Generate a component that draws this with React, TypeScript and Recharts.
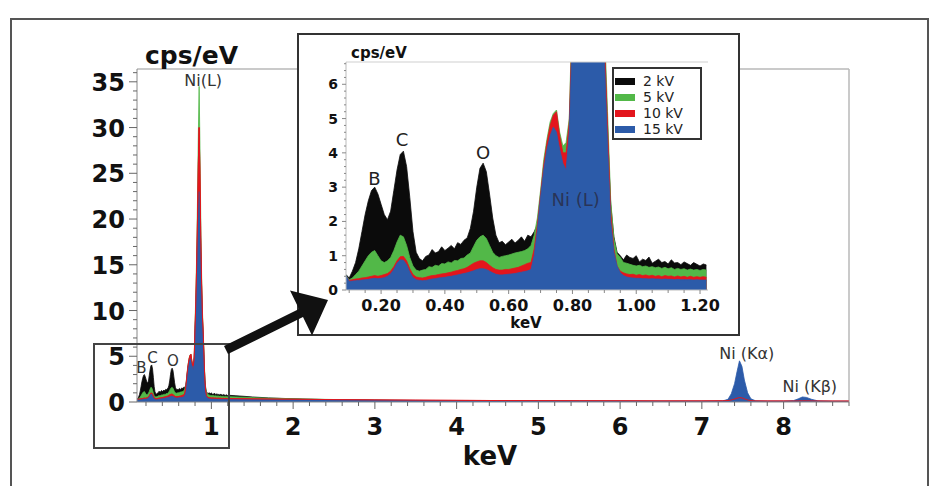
import React from "react";
import { ComposedChart, Area, Line, XAxis, YAxis, ReferenceLine, ReferenceDot, Legend } from "recharts";

// low energy part, 0.09 - 1.22 keV (shown in inset and in main chart)
const lowKev = [
  0.09,
  0.1, 0.11, 0.12, 0.13, 0.14, 0.15, 0.16, 0.17, 0.18, 0.19,
  0.2, 0.21, 0.22, 0.23, 0.24, 0.25, 0.26, 0.27, 0.28, 0.29,
  0.3, 0.31, 0.32, 0.33, 0.34, 0.35, 0.36, 0.37, 0.38, 0.39,
  0.4, 0.41, 0.42, 0.43, 0.44, 0.45, 0.46, 0.47, 0.48, 0.49,
  0.5, 0.51, 0.52, 0.53, 0.54, 0.55, 0.56, 0.57, 0.58, 0.59,
  0.6, 0.61, 0.62, 0.63, 0.64, 0.65, 0.66, 0.67, 0.68, 0.69,
  0.7, 0.71, 0.72, 0.73, 0.74, 0.75, 0.76, 0.77, 0.78, 0.79,
  0.8, 0.81, 0.82, 0.83, 0.84, 0.85, 0.86, 0.87, 0.88, 0.89,
  0.9, 0.91, 0.92, 0.93, 0.94, 0.95, 0.96, 0.97, 0.98, 0.99,
  1.0, 1.01, 1.02, 1.03, 1.04, 1.05, 1.06, 1.07, 1.08, 1.09,
  1.1, 1.11, 1.12, 1.13, 1.14, 1.15, 1.16, 1.17, 1.18, 1.19,
  1.2, 1.21, 1.22,
];
const lowKv2 = [
  0.45,
  0.35, 0.55, 0.8, 1.2, 1.7, 2.2, 2.6, 2.9, 3.0, 2.8,
  2.5, 2.2, 2.05, 2.3, 2.9, 3.5, 3.95, 4.05, 3.6, 2.7,
  1.7, 1.1, 0.92, 0.85, 0.98, 1.02, 1.18, 1.08, 1.12, 1.26,
  1.15, 1.22, 1.3, 1.2, 1.38, 1.33, 1.45, 1.52, 1.8, 2.3,
  3.0, 3.55, 3.7, 3.45, 2.8, 2.1, 1.6, 1.38, 1.42, 1.32,
  1.4, 1.48, 1.37, 1.45, 1.55, 1.42, 1.6, 1.55, 1.7, 1.9,
  2.5, 3.4, 4.0, 4.4, 4.6, 4.5, 4.0, 3.6, 3.4, 4.4,
  7.5, 10, 13.5, 18, 23, 26, 22, 16.5, 12.5, 9.0,
  7.2, 4.6, 2.5, 1.55, 1.1, 1.0, 0.88, 1.02, 0.95, 0.92,
  1.0, 0.82, 0.9, 0.86, 0.96, 0.78, 0.84, 0.9, 0.8, 0.83,
  0.76, 0.88, 0.79, 0.8, 0.74, 0.82, 0.77, 0.72, 0.8, 0.75,
  0.7, 0.76, 0.73,
];
const lowKv5 = [
  0.42,
  0.3, 0.35, 0.45, 0.55, 0.7, 0.85, 1.0, 1.1, 1.15, 1.0,
  0.85, 0.8, 0.85, 0.95, 1.15, 1.4, 1.6, 1.55, 1.3, 0.95,
  0.7, 0.58, 0.55, 0.58, 0.6, 0.68, 0.66, 0.72, 0.7, 0.77,
  0.76, 0.82, 0.79, 0.86, 0.85, 0.92, 0.93, 1.02, 1.08, 1.27,
  1.45, 1.55, 1.6, 1.5, 1.3, 1.1, 1.0, 0.95, 0.98, 1.0,
  1.02, 1.05, 1.08, 1.1, 1.12, 1.15, 1.2, 1.3, 1.6, 2.1,
  2.9, 3.8, 4.4, 4.9, 5.15, 5.25, 4.6, 4.2, 4.3, 5.0,
  8.5, 12, 16, 22, 29, 34.5, 28, 20, 14, 10,
  7.8, 5.2, 2.6, 1.5, 1.05, 0.95, 0.8, 0.78, 0.75, 0.72,
  0.7, 0.72, 0.68, 0.7, 0.66, 0.68, 0.65, 0.67, 0.63, 0.66,
  0.62, 0.65, 0.6, 0.63, 0.6, 0.62, 0.58, 0.61, 0.58, 0.6,
  0.57, 0.6, 0.58,
];
const lowKv10 = [
  0.4,
  0.28, 0.3, 0.32, 0.33, 0.35, 0.36, 0.38, 0.4, 0.42, 0.4,
  0.42, 0.45, 0.48, 0.55, 0.68, 0.85, 0.97, 0.98, 0.85, 0.62,
  0.45, 0.38, 0.36, 0.35, 0.37, 0.4, 0.42, 0.43, 0.45, 0.47,
  0.48, 0.5, 0.52, 0.55, 0.57, 0.6, 0.62, 0.66, 0.72, 0.78,
  0.82, 0.85, 0.85, 0.8, 0.72, 0.65, 0.6, 0.58, 0.58, 0.6,
  0.6, 0.62, 0.64, 0.66, 0.7, 0.74, 0.78, 0.8, 1.2, 1.9,
  2.8, 3.65, 4.3, 4.8, 5.1, 5.2, 4.5, 4.0, 4.0, 4.9,
  8, 11, 15, 20, 26, 30, 25, 18, 13, 9.5,
  7.4, 4.8, 2.3, 1.2, 0.7, 0.55, 0.5, 0.47, 0.45, 0.46,
  0.43, 0.45, 0.42, 0.44, 0.41, 0.43, 0.4, 0.42, 0.39, 0.42,
  0.4, 0.41, 0.38, 0.41, 0.38, 0.4, 0.37, 0.4, 0.37, 0.39,
  0.37, 0.39, 0.37,
];
const lowKv15 = [
  0.42,
  0.25, 0.26, 0.27, 0.28, 0.29, 0.3, 0.31, 0.33, 0.34, 0.33,
  0.34, 0.36, 0.4, 0.47, 0.6, 0.78, 0.88, 0.87, 0.74, 0.52,
  0.36, 0.3, 0.28, 0.27, 0.28, 0.3, 0.32, 0.33, 0.35, 0.36,
  0.37, 0.39, 0.4, 0.42, 0.44, 0.46, 0.48, 0.5, 0.53, 0.56,
  0.6, 0.62, 0.62, 0.6, 0.55, 0.5, 0.46, 0.44, 0.44, 0.45,
  0.46, 0.47, 0.48, 0.5, 0.52, 0.54, 0.56, 0.6, 1.0, 1.75,
  2.7, 3.5, 4.1, 4.5, 4.75, 4.6, 4.1, 3.7, 3.5, 4.6,
  7.5, 10, 13, 17, 20.5, 23, 20, 15.5, 11.5, 8.5,
  6.8, 4.2, 2.0, 1.1, 0.7, 0.5, 0.42, 0.38, 0.36, 0.35,
  0.34, 0.34, 0.33, 0.33, 0.32, 0.33, 0.32, 0.32, 0.31, 0.32,
  0.31, 0.31, 0.3, 0.31, 0.3, 0.3, 0.3, 0.3, 0.29, 0.3,
  0.29, 0.29, 0.29,
];

// high energy part, only in the main chart
const highKev = [
  1.3, 1.4, 1.5, 1.7, 2.0, 2.5, 3.0, 3.5, 4.0, 4.5,
  5.0, 5.5, 6.0, 6.5, 7.0, 7.25, 7.32, 7.36, 7.4, 7.43,
  7.46, 7.49, 7.52, 7.56, 7.6, 7.66, 7.8, 8.0, 8.12, 8.18,
  8.23, 8.28, 8.34, 8.42, 8.6, 8.8,
];
const highKv2 = [
  0.68, 0.62, 0.55, 0.45, 0.35, 0.25, 0.18, 0.13, 0.1, 0.08,
  0.06, 0.05, 0.04, 0.03, 0.03, 0.03, 0.03, 0.03, 0.03, 0.03,
  0.03, 0.03, 0.03, 0.03, 0.03, 0.03, 0.02, 0.02, 0.02, 0.02,
  0.02, 0.02, 0.02, 0.02, 0.02, 0.02,
];
const highKv5 = [
  0.56, 0.52, 0.48, 0.42, 0.35, 0.27, 0.2, 0.16, 0.13, 0.11,
  0.09, 0.08, 0.07, 0.06, 0.06, 0.06, 0.06, 0.06, 0.06, 0.07,
  0.07, 0.07, 0.06, 0.06, 0.06, 0.05, 0.05, 0.05, 0.05, 0.05,
  0.05, 0.05, 0.05, 0.05, 0.05, 0.04,
];
const highKv10 = [
  0.36, 0.35, 0.34, 0.32, 0.3, 0.26, 0.23, 0.2, 0.18, 0.16,
  0.15, 0.14, 0.13, 0.12, 0.12, 0.13, 0.16, 0.22, 0.32, 0.42,
  0.48, 0.45, 0.35, 0.22, 0.15, 0.12, 0.11, 0.11, 0.11, 0.12,
  0.13, 0.13, 0.12, 0.11, 0.1, 0.1,
];
const highKv15 = [
  0.29, 0.28, 0.27, 0.26, 0.24, 0.22, 0.19, 0.17, 0.15, 0.13,
  0.12, 0.11, 0.1, 0.09, 0.09, 0.1, 0.3, 0.9, 2.0, 3.3,
  4.5, 3.9, 2.4, 1.0, 0.35, 0.12, 0.09, 0.09, 0.15, 0.35,
  0.55, 0.5, 0.3, 0.12, 0.08, 0.08,
];

const series = [
  { key: "kv2", name: "2 kV", color: "#0b0b0b" },
  { key: "kv5", name: "5 kV", color: "#52b848" },
  { key: "kv10", name: "10 kV", color: "#e3151d" },
  { key: "kv15", name: "15 kV", color: "#2c5ba9" },
];

const mainPeaks = [
  { text: "Ni(L)", kev: 0.9, cps: 35.2 },
  { text: "B", kev: 0.145, cps: 3.8 },
  { text: "C", kev: 0.28, cps: 4.85 },
  { text: "O", kev: 0.53, cps: 4.5 },
  { text: "Ni (K\u03b1)", kev: 7.55, cps: 5.3 },
  { text: "Ni (K\u03b2)", kev: 8.32, cps: 1.72 },
];
const insetPeaks = [
  { text: "B", kev: 0.179, cps: 3.26 },
  { text: "C", kev: 0.266, cps: 4.39 },
  { text: "O", kev: 0.52, cps: 4.0 },
  { text: "Ni (L)", kev: 0.81, cps: 2.63 },
];

const mainXLabels = [1, 2, 3, 4, 5, 6, 7, 8];
const mainXTicks = Array.from({ length: 44 }, (_, i) => +((i + 1) * 0.2).toFixed(1));
const mainYTicks = Array.from({ length: 37 }, (_, i) => i);
const insetXLabels = [0.2, 0.4, 0.6, 0.8, 1.0, 1.2];
const insetXTicks = Array.from({ length: 23 }, (_, i) => +(0.1 + i * 0.05).toFixed(2));
const insetYTicks = Array.from({ length: 34 }, (_, i) => +(i * 0.2).toFixed(1));

const mainXMin = 0.09;
const mainXMax = 8.8;
const mainYMax = 36.4;
const insetXMin = 0.09;
const insetXMax = 1.225;
const insetYMax = 6.65;

const insetRows = lowKev.map((kev, i) => ({
  kev,
  kv2: lowKv2[i],
  kv5: lowKv5[i],
  kv10: lowKv10[i],
  kv15: lowKv15[i],
}));
const mainRows = insetRows.concat(
  highKev.map((kev, i) => ({
    kev,
    kv2: highKv2[i],
    kv5: highKv5[i],
    kv10: highKv10[i],
    kv15: highKv15[i],
  }))
);

const MainXTick = ({ x, y, payload }: any) => {
  const major = mainXLabels.includes(payload.value);
  return (
    <g>
      <line x1={x} x2={x} y1={y} y2={y + (major ? 7 : 4)} stroke="#666" />
      {major && (
        <text x={x} y={y + 33} textAnchor="middle" fontSize={24} fontWeight="bold" fill="#111">
          {payload.value}
        </text>
      )}
    </g>
  );
};

const MainYTick = ({ x, y, payload }: any) => {
  const major = payload.value % 5 === 0;
  return (
    <g>
      <line x1={x - (major ? 8 : 4)} x2={x} y1={y} y2={y} stroke="#666" />
      {major && (
        <text x={x - 12} y={y + 9} textAnchor="end" fontSize={24} fontWeight="bold" fill="#111">
          {payload.value}
        </text>
      )}
    </g>
  );
};

const InsetXTick = ({ x, y, payload }: any) => {
  const major = insetXLabels.some((v) => Math.abs(v - payload.value) < 1e-6);
  return (
    <g>
      <line x1={x} x2={x} y1={y} y2={y + (major ? 4 : 3)} stroke="#888" />
      {major && (
        <text x={x} y={y + 21} textAnchor="middle" fontSize={16} fontWeight="bold" fill="#111">
          {payload.value.toFixed(2)}
        </text>
      )}
    </g>
  );
};

const InsetYTick = ({ x, y, payload }: any) => {
  const major = Number.isInteger(payload.value);
  return (
    <g>
      <line x1={x - (major ? 4 : 2)} x2={x} y1={y} y2={y} stroke="#888" />
      {major && (
        <text x={x - 8} y={y + 5} textAnchor="end" fontSize={14} fontWeight="bold" fill="#111">
          {payload.value}
        </text>
      )}
    </g>
  );
};

const LegendBox = () => (
  <div
    style={{
      boxSizing: "border-box",
      width: 90,
      height: 73,
      border: "2px solid #333",
      background: "#fff",
      padding: "4px 0 0 1px",
    }}
  >
    {series.map((s) => (
      <div key={s.key} style={{ display: "flex", alignItems: "center", height: 16, fontSize: 14, color: "#222" }}>
        <span style={{ display: "inline-block", width: 20, height: 7, background: s.color, marginRight: 8 }} />
        {s.name}
      </div>
    ))}
  </div>
);

function seriesMarks(withRedLine: boolean) {
  const marks = series.map((s) => (
    <Area
      key={s.key}
      dataKey={s.key}
      name={s.name}
      type="linear"
      stroke={s.color}
      strokeWidth={0.8}
      fill={s.color}
      fillOpacity={1}
      dot={false}
      activeDot={false}
      isAnimationActive={false}
    />
  ));
  if (withRedLine) {
    marks.push(
      <Line
        key="kv10line"
        dataKey="kv10"
        type="linear"
        stroke="#e3151d"
        strokeWidth={1}
        dot={false}
        activeDot={false}
        legendType="none"
        isAnimationActive={false}
      />
    );
  }
  return marks;
}

export default function App() {
  return (
    <div
      style={{
        position: "absolute",
        left: 0,
        top: 0,
        width: 931,
        height: 486,
        overflow: "hidden",
        background: "#fff",
        fontFamily: '"DejaVu Sans", Verdana, sans-serif',
      }}
    >
      <div
        style={{
          position: "absolute",
          left: 10,
          top: 18,
          width: 919,
          height: 490,
          boxSizing: "border-box",
          border: "2px solid #555",
        }}
      />

      <div style={{ position: "absolute", left: 0, top: 0 }}>
        <ComposedChart width={931} height={486} data={mainRows} margin={{ top: 69, right: 82, bottom: 44, left: 77 }}>
          <XAxis
            dataKey="kev"
            type="number"
            domain={[mainXMin, mainXMax]}
            allowDataOverflow
            ticks={mainXTicks}
            interval={0}
            tick={(p: any) => <MainXTick {...p} />}
            tickLine={false}
            tickSize={0}
            tickMargin={0}
            axisLine={{ stroke: "#888" }}
            height={40}
            label={{
              content: ({ viewBox }: any) => (
                <text
                  x={viewBox.x + viewBox.width / 2 - 3}
                  y={viewBox.y + 63}
                  textAnchor="middle"
                  fontSize={26}
                  fontWeight="bold"
                  fill="#111"
                >
                  keV
                </text>
              ),
            }}
          />
          <YAxis
            type="number"
            domain={[0, mainYMax]}
            allowDataOverflow
            ticks={mainYTicks}
            interval={0}
            tick={(p: any) => <MainYTick {...p} />}
            tickLine={false}
            tickSize={0}
            tickMargin={0}
            axisLine={{ stroke: "#888" }}
            width={60}
            label={{
              content: ({ viewBox }: any) => (
                <text x={viewBox.x + viewBox.width + 8} y={viewBox.y - 5} fontSize={25} fontWeight="bold" fill="#111">
                  cps/eV
                </text>
              ),
            }}
          />
          <ReferenceLine y={mainYMax} stroke="#b8b8b8" strokeWidth={1.5} ifOverflow="visible" />
          <ReferenceLine x={mainXMax} stroke="#b8b8b8" strokeWidth={1.5} ifOverflow="visible" />
          {seriesMarks(true)}
          {mainPeaks.map((p) => (
            <ReferenceDot
              key={p.text}
              x={p.kev}
              y={p.cps}
              r={0}
              fill="none"
              stroke="none"
              ifOverflow="visible"
              label={{ value: p.text, position: "center", fontSize: p.text.length > 1 ? 16 : 15, fill: "#333" }}
            />
          ))}
        </ComposedChart>
      </div>

      <div
        style={{
          position: "absolute",
          left: 297,
          top: 33,
          width: 443,
          height: 303,
          boxSizing: "border-box",
          border: "2px solid #333",
          background: "#fff",
        }}
      >
        <ComposedChart width={439} height={299} data={insetRows} margin={{ top: 27, right: 30, bottom: 14, left: 17 }}>
          <XAxis
            dataKey="kev"
            type="number"
            domain={[insetXMin, insetXMax]}
            allowDataOverflow
            ticks={insetXTicks}
            interval={0}
            tick={(p: any) => <InsetXTick {...p} />}
            tickLine={false}
            tickSize={0}
            tickMargin={0}
            axisLine={{ stroke: "#bbb" }}
            height={30}
            label={{
              content: ({ viewBox }: any) => (
                <text
                  x={viewBox.x + viewBox.width / 2 - 1}
                  y={viewBox.y + 38}
                  textAnchor="middle"
                  fontSize={15}
                  fontWeight="bold"
                  fill="#111"
                >
                  keV
                </text>
              ),
            }}
          />
          <YAxis
            type="number"
            domain={[0, insetYMax]}
            allowDataOverflow
            ticks={insetYTicks}
            interval={0}
            tick={(p: any) => <InsetYTick {...p} />}
            tickLine={false}
            tickSize={0}
            tickMargin={0}
            axisLine={{ stroke: "#bbb" }}
            width={30}
            label={{
              content: ({ viewBox }: any) => (
                <text x={viewBox.x + viewBox.width + 5} y={viewBox.y - 4} fontSize={15} fontWeight="bold" fill="#111">
                  cps/eV
                </text>
              ),
            }}
          />
          <ReferenceLine y={insetYMax} stroke="#cfcfcf" ifOverflow="visible" />
          {seriesMarks(false)}
          {insetPeaks.map((p) => (
            <ReferenceDot
              key={p.text}
              x={p.kev}
              y={p.cps}
              r={0}
              fill="none"
              stroke="none"
              ifOverflow="visible"
              label={{
                value: p.text,
                position: "center",
                fontSize: 18,
                fill: p.text.startsWith("Ni") ? "rgba(40,40,60,0.75)" : "#222",
              }}
            />
          ))}
          <Legend
            layout="horizontal"
            verticalAlign="middle"
            align="center"
            wrapperStyle={{ left: 313, top: 32, width: 90, height: 73 }}
            content={() => <LegendBox />}
          />
        </ComposedChart>
      </div>

      <svg width={931} height={486} style={{ position: "absolute", left: 0, top: 0, pointerEvents: "none" }}>
        <rect x={94} y={344} width={135} height={104} fill="none" stroke="#444" strokeWidth={2} />
        <polygon points="224,346 299,309 290,290.6 328,300 312,335.4 303,317 228,354" fill="#111" />
      </svg>
    </div>
  );
}
